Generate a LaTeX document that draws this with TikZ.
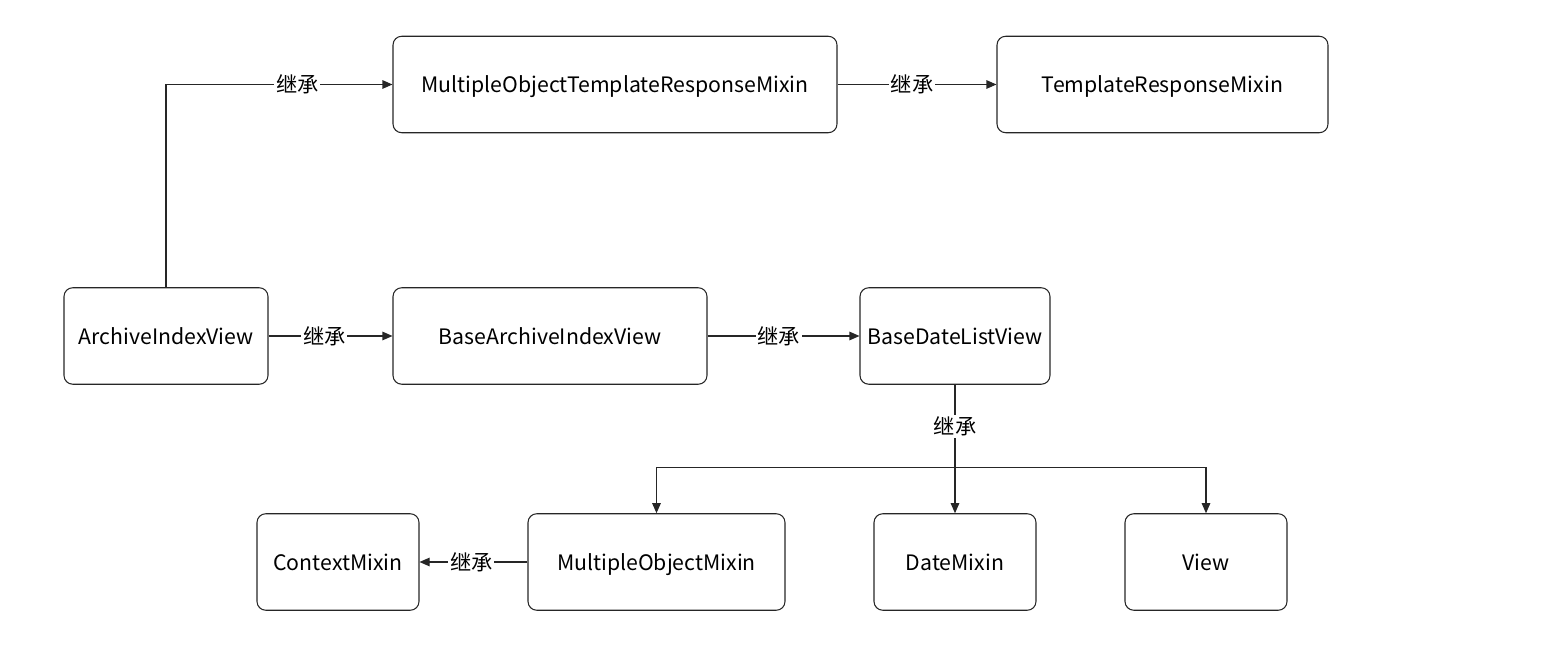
\documentclass[tikz,border=0pt]{standalone}
\usepackage{fontspec}
\setmainfont{Noto Sans CJK SC}
\usetikzlibrary{arrows.meta, positioning, calc}

\begin{document}
\begin{tikzpicture}[
        every node/.style={font=\fontsize{12.1}{14}\selectfont},
        clase/.style={
            rectangle, rounded corners=5pt, draw=black!85, line width=0.6pt,
            minimum height=1.93cm, inner sep=4pt, align=center,
            text height=1.15em, text depth=0.2em
        },
        etiqueta/.style={fill=white, inner sep=1pt},
        arr/.style={-{Triangle[length=2mm, width=1.7mm]}, line width=0.6pt, draw=black!85},
        linea/.style={line width=0.6pt, draw=black!85}
    ]
        \useasboundingbox (0,0) rectangle (31.14,13.16);

% --- Fila superior ---
        \node[clase, minimum width=8.88cm] (motrm) at (12.30,11.47) {MultipleObjectTemplateResponseMixin};
        \node[clase, minimum width=6.62cm] (trm) at (23.25,11.47) {TemplateResponseMixin};

% --- Fila central ---
        \node[clase, minimum width=4.08cm] (aiv) at (3.32,6.44) {ArchiveIndexView};
        \node[clase, minimum width=6.28cm] (baiv) at (11.00,6.44) {BaseArchiveIndexView};
        \node[clase, minimum width=3.80cm] (bdlv) at (19.10,6.44) {BaseDateListView};

% --- Fila inferior ---
        \node[clase, minimum width=3.24cm] (ctx) at (6.76,1.92) {ContextMixin};
        \node[clase, minimum width=5.14cm] (mom) at (13.13,1.92) {MultipleObjectMixin};
        \node[clase, minimum width=3.24cm] (dm) at (19.10,1.92) {DateMixin};
        \node[clase, minimum width=3.24cm] (view) at (24.12,1.92) {View};

% --- Herencias ---
        \draw[arr] (aiv.north) |- node[etiqueta, pos=0.79] {继承} (motrm.west);
        \draw[arr] (motrm.east) -- node[etiqueta, pos=0.47] {继承} (trm.west);
        \draw[arr] (aiv.east) -- node[etiqueta, pos=0.45] {继承} (baiv.west);
        \draw[arr] (baiv.east) -- node[etiqueta, pos=0.47] {继承} (bdlv.west);
        \draw[arr] (mom.west) -- node[etiqueta, pos=0.52] {继承} (ctx.east);

        \coordinate (rama) at ($(bdlv.south)+(0,-1.66)$);
        \draw[linea] (bdlv.south) -- node[etiqueta] {继承} (rama);
        \draw[arr] (rama) -| (mom.north);
        \draw[arr] (rama) -- (dm.north);
        \draw[arr] (rama) -| (view.north);
    \end{tikzpicture}
\end{document}
